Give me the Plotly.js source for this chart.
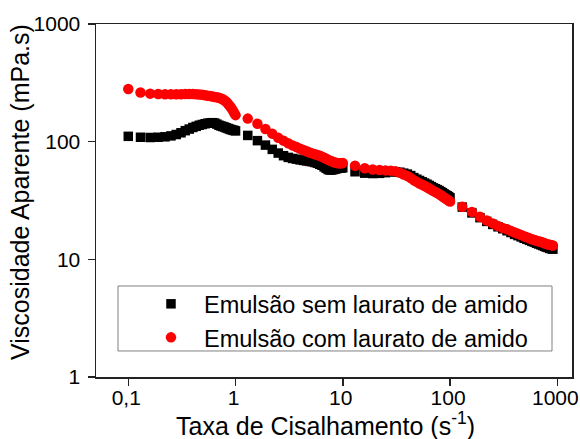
<!DOCTYPE html>
<html>
<head>
<meta charset="utf-8">
<script src="https://cdn.plot.ly/plotly-3.0.1.min.js"></script>
<style>html,body{margin:0;padding:0;background:#fff;}#chart{width:580px;height:439px;}</style>
</head>
<body>
<div id="chart"></div>
<script>
// Shear rate (s^-1), shared by both series
const shearRate = [
  0.10,0.13,0.16,0.19,0.22,0.25,0.28,0.31,0.34,0.37,0.40,0.43,0.46,0.49,0.52,0.55,0.58,0.61,0.64,0.67,0.70,0.73,0.76,0.79,0.82,0.85,0.88,0.91,0.94,0.97,1.00,
  1.3,1.6,1.9,2.2,2.5,2.8,3.1,3.4,3.7,4.0,4.3,4.6,4.9,5.2,5.5,5.8,6.1,6.4,6.7,7.0,7.3,7.6,7.9,8.2,8.5,8.8,9.1,9.4,9.7,10,
  13,16,19,22,25,28,31,34,37,40,43,46,49,52,55,58,61,64,67,70,73,76,79,82,85,88,91,94,97,100,
  130,160,190,220,250,280,310,340,370,400,430,460,490,520,550,580,610,640,670,700,730,760,790,820,850,880,910
];
// Apparent viscosity (mPa.s) - emulsion without starch laurate
const viscSem = [
  111,109,108.5,109,110,112,115,119,124,128,132,135,138,140,142,143.5,144.5,145,144,141,138,136,134.5,133,131,129.5,128,126.5,125.5,124.5,123.5,
  113,102,93.5,86,80,76,73.5,72,71,70,69.3,68.6,68,67.4,66.5,65.5,64.2,63,61,59.5,58,57.4,57.5,58,58.5,59,59.4,59.6,59.8,60,
  55.5,54,53.6,53.8,54.5,55.3,55.5,55,54,53,51.5,49.5,48,46.8,45.6,44.5,43.5,42.5,41.5,40.5,39.8,39.1,38.4,37.6,36.8,36,35.3,34.7,34.1,33.3,
  27.8,24.8,22.6,21,19.8,18.9,18.2,17.5,16.9,16.3,15.9,15.5,15.1,14.8,14.5,14.2,14,13.7,13.5,13.3,13.1,12.9,12.7,12.6,12.4,12.3,12.2
];
// Apparent viscosity (mPa.s) - emulsion with starch laurate
const viscCom = [
  280,262,256,254,253,253,253,253,254,254,254,253,252,250,248,246,244,242,240,238,236,233,229,224,218,210,202,194,185,176,168,
  157,142,128,117,108,102,97,93,90,87,85,83,81,79.5,78,77,76,74.5,73,71.5,70,69,68,67,66.5,66,65.5,65.5,65.5,66,
  62.5,59.5,58,57.5,57,56.7,56,54.5,52.5,51,49,47,45.5,44,43,42,41,40,39,38,37.4,36.6,35.8,35,34.3,33.5,32.8,32.2,31.6,31,
  28,25.3,23,21.4,20.2,19.2,18.5,18,17.4,16.9,16.5,16.1,15.7,15.4,15.1,14.8,14.6,14.4,14.2,14.1,13.9,13.7,13.5,13.4,13.3,13.2,13.1
];
const seriesNames = ['Emulsão sem laurato de amido', 'Emulsão com laurato de amido'];
const xTickVals = [0.1, 1, 10, 100, 1000];
const xTickText = ['0,1', '1', '10', '100', '1000'];
const yTickVals = [1, 10, 100, 1000];
const yTickText = ['1', '10', '100', '1000'];
const xTitle = 'Taxa de Cisalhamento (s<sup>-1</sup>)';
const yTitle = 'Viscosidade Aparente (mPa.s)';

const FONT = 'Arial, "Liberation Sans", Helvetica, sans-serif';

const traces = [
  {x: shearRate, y: viscSem, name: seriesNames[0], type: 'scatter', mode: 'markers',
   marker: {symbol: 'square', size: 9.5, color: '#000000', line: {width: 0}}},
  {x: shearRate, y: viscCom, name: seriesNames[1], type: 'scatter', mode: 'markers',
   marker: {symbol: 'circle', size: 10.5, color: '#ff0000', line: {width: 0}}}
];

const xRange = [-1.301, 3.137];
const yRange = [0, 3];

const layout = {
  width: 580, height: 439,
  margin: {l: 96, r: 8, t: 24, b: 62},
  paper_bgcolor: '#ffffff', plot_bgcolor: '#ffffff',
  font: {family: FONT, size: 21, color: '#000000'},
  showlegend: true,
  legend: {
    x: 0.0483, y: 0.269, xanchor: 'left', yanchor: 'top',
    borderwidth: 0, bgcolor: 'rgba(255,255,255,0)',
    font: {family: FONT, size: 23.5, color: '#000000'},
    itemwidth: 56, indentation: 19, tracegroupgap: 0
  },
  shapes: [
    {type: 'rect', xref: 'paper', yref: 'paper', x0: 0.0462, x1: 0.958, y0: 0.0737, y1: 0.2578,
     line: {color: '#808080', width: 1}, fillcolor: 'rgba(0,0,0,0)', layer: 'above'}
  ],
  annotations: [
    {text: xTitle, xref: 'paper', yref: 'paper', x: 0.482, y: -0.1331, xanchor: 'center', yanchor: 'middle',
     showarrow: false, font: {family: FONT, size: 25, color: '#000'}},
    {text: yTitle, xref: 'paper', yref: 'paper', x: -0.1597, y: 0.524, xanchor: 'center', yanchor: 'middle',
     textangle: -90, showarrow: false, font: {family: FONT, size: 25, color: '#000'}}
  ],
  xaxis: {
    type: 'log', range: xRange, tickvals: xTickVals, ticktext: xTickText,
    ticks: 'outside', ticklen: 7, tickwidth: 1.5, tickcolor: '#222',
    showline: true, linecolor: '#222', linewidth: 1.5, mirror: true,
    showgrid: false, zeroline: false, ticklabeloverflow: 'allow', ticklabelstandoff: -6, ticklabelshift: -2,
    tickfont: {family: FONT, size: 21, color: '#000'}
  },
  yaxis: {
    type: 'log', range: yRange, tickvals: yTickVals, ticktext: yTickText,
    ticks: 'outside', ticklen: 7, tickwidth: 1.5, tickcolor: '#222',
    showline: true, linecolor: '#222', linewidth: 1.5, mirror: true,
    showgrid: false, zeroline: false, ticklabeloverflow: 'allow', ticklabelstandoff: 3,
    tickfont: {family: FONT, size: 21, color: '#000'}
  },
  xaxis2: {
    type: 'log', range: xRange, overlaying: 'x', anchor: 'y', side: 'bottom',
    tickvals: xTickVals, ticks: 'inside', ticklen: 6, tickwidth: 1.5, tickcolor: '#222',
    showticklabels: false, showline: false, showgrid: false, zeroline: false
  },
  yaxis2: {
    type: 'log', range: yRange, overlaying: 'y', anchor: 'x', side: 'left',
    tickvals: yTickVals, ticks: 'inside', ticklen: 5, tickwidth: 1.5, tickcolor: '#222',
    showticklabels: false, showline: false, showgrid: false, zeroline: false
  }
};

Plotly.newPlot('chart', traces, layout, {staticPlot: true, displayModeBar: false});
</script>
</body>
</html>
